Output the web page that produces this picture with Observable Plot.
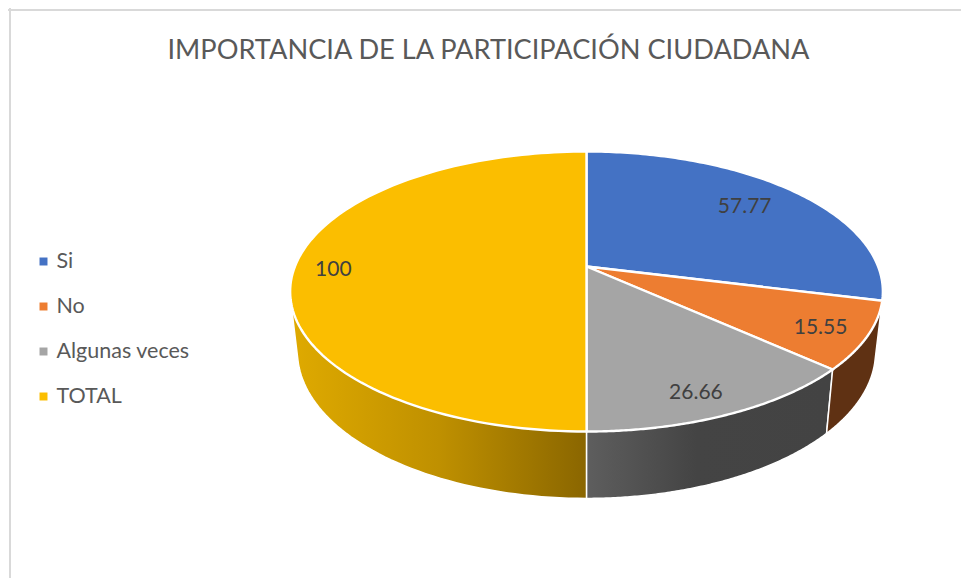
<!DOCTYPE html>
<html><head><meta charset="utf-8">
<script src="https://cdn.jsdelivr.net/npm/d3@7"></script>
<script src="https://cdn.jsdelivr.net/npm/@observablehq/plot@0.6"></script>
<style>html,body{margin:0;padding:0;background:#fff}svg{display:block}</style>
</head><body><div id="chart"></div>
<script>
// Data
const categories = ["Si", "No", "Algunas veces", "TOTAL"];
const values = [57.77, 15.55, 26.66, 100];
const valueLabels = ["57.77", "15.55", "26.66", "100"];
const titleText = "IMPORTANCIA DE LA PARTICIPACIÓN CIUDADANA";

// Styles
const topColors = ["#4472C4", "#ED7D31", "#A5A5A5", "#FBBE00"];
const W = 961, H = 578;
const hubX = 586, hubY = 266, R = 291.6;   // layout of the top face, in px
const persp = -0.1786;                     // perspective of the tilted disc
const topTilt = 135.55 / R;
const baseTilt = 131.5 / R, baseR = 284.4 / R, baseDrop = 59 / R;
const labelR = [0.76, 0.852, 0.859, 0.865];
const labelTurn = [-1.2, 1.3, 2, -1.5];

// scale units: one pie radius
const xDomain = [-hubX / R, (W - hubX) / R];
const yDomain = [-hubY / R, (H - hubY) / R];
const px = v => (v - hubX) / R, py = v => (v - hubY) / R;

const project = (deg, r, base) => {
  const a = deg * Math.PI / 180, u = r * Math.sin(a), v = -r * Math.cos(a), d = 1 + persp * v;
  return base
    ? {x: baseR * u / d, y: (baseTilt * v + baseDrop) / d}
    : {x: u / d, y: topTilt * v / d};
};

const arcs = d3.pie().sort(null).value(d => d)(values).map(a => ({
  start: a.startAngle * 180 / Math.PI, end: a.endAngle * 180 / Math.PI
}));
const rim = (s, e, base) => d3.range(0, 121).map(i => project(s + (e - s) * i / 120, 1, base));
const face = a => [{x: 0, y: 0}, ...rim(a.start, a.end, false)];
// the wall of a slice: the outline around its top and bottom rims
const side = a => d3.polygonHull([...rim(a.start, a.end, false), ...rim(a.start, a.end, true)].map(p => [p.x, p.y]))
  .map(([x, y]) => ({x, y}));

const labels = arcs.map((a, i) => ({
  ...project((a.start + a.end) / 2 + labelTurn[i], labelR[i], false), text: valueLabels[i]
}));

const polygon = (rows, fill, strokeWidth) =>
  Plot.line(rows, {x: "x", y: "y", fill, stroke: "#fff", strokeWidth, curve: "linear-closed"});

const legendRows = categories.map((name, i) => ({name, color: topColors[i], y: py(261 + 45 * i)}));

const plot = Plot.plot({
  width: W, height: H, margin: 0,
  x: {domain: xDomain, range: [0, W], axis: null},
  y: {domain: yDomain, range: [0, H], axis: null},
  style: {background: "#fff", fontFamily: "Lato, sans-serif"},
  marks: [
    Plot.ruleY([py(9.5)], {x1: px(8), x2: px(961), stroke: "#D9D9D9", strokeWidth: 2}),
    Plot.ruleX([px(9.5)], {y1: py(8), y2: py(578), stroke: "#D9D9D9", strokeWidth: 2}),
    polygon(side(arcs[3]), "url(#goldSide)", 1.5),
    polygon(side(arcs[2]), "url(#graySide)", 1.5),
    polygon(side(arcs[1]), "#5F3113", 1.5),
    ...[0, 1, 2, 3].map(i => polygon(face(arcs[i]), topColors[i], 2.4)),
    Plot.text(labels, {x: "x", y: "y", text: "text", fontSize: 21, fill: "#404040"}),
    Plot.text([titleText], {x: px(488), y: py(49.5), fontSize: 27.2, fill: "#595959"}),
    Plot.dot(legendRows, {x: px(43), y: "y", symbol: "square", r: 4.5, fill: "color"}),
    Plot.text(legendRows, {x: px(56), y: "y", text: "name", textAnchor: "start", fontSize: 21.5, fill: "#595959"})
  ]
});

const defs = d3.select(plot).insert("svg:defs", ":first-child");
const gradient = (id, x1, x2, stops) => {
  const g = defs.append("linearGradient").attr("id", id)
    .attr("gradientUnits", "userSpaceOnUse").attr("x1", x1).attr("x2", x2).attr("y1", 0).attr("y2", 0);
  stops.forEach(([o, c]) => g.append("stop").attr("offset", o).attr("stop-color", c));
};
gradient("goldSide", 291, 586, [[0, "#DFAA00"], [0.5, "#BF9000"], [1, "#8A6600"]]);
gradient("graySide", 586, 830, [[0, "#5E5E5E"], [0.45, "#444444"], [1, "#434343"]]);

document.getElementById("chart").append(plot);
</script></body></html>
